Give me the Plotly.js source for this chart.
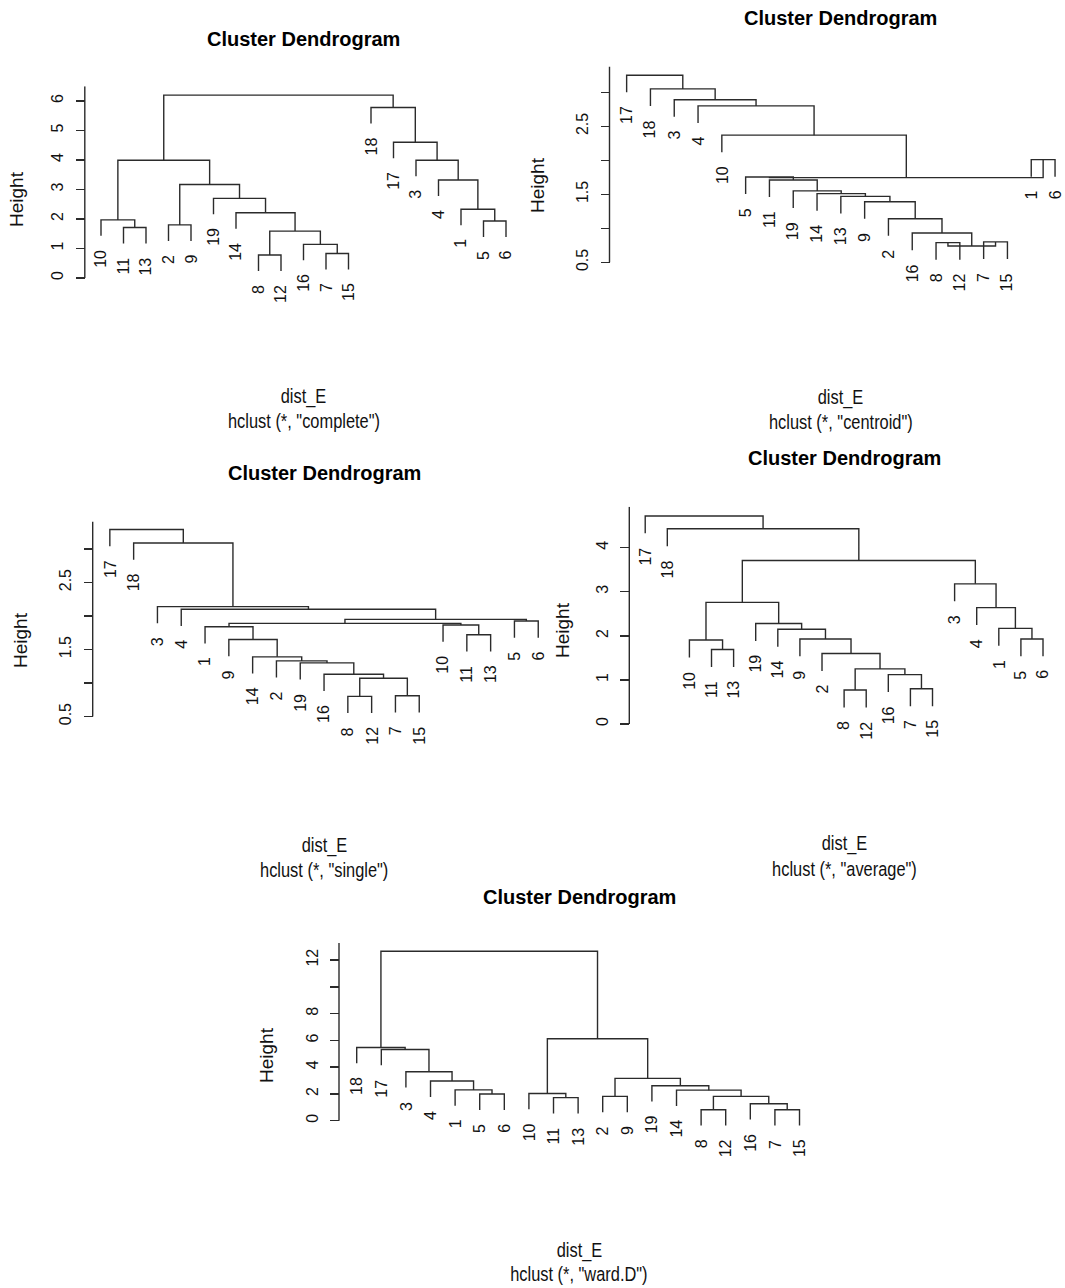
<!DOCTYPE html>
<html><head><meta charset="utf-8">
<script src="https://cdn.plot.ly/plotly-3.0.1.min.js"></script>
<style>html,body{margin:0;padding:0;background:#fff}#chart{width:1065px;height:1288px}</style>
</head><body><div id="chart"></div>
<script>
// ---------------- data ----------------
// merges: negative = observation label, positive = index (1-based) of an earlier merge
const completeLeaves  = [10,11,13,2,9,19,14,8,12,16,7,15,18,17,3,4,1,5,6];
const completeMerges  = [[-8,-12],[-7,-15],[-16,2],[1,3],[-11,-13],[-2,-9],[-5,-6],[-10,5],[-14,4],[-1,7],[-19,9],[6,11],[-4,10],[8,12],[-3,13],[-17,15],[-18,16],[14,17]];
const completeHeights = [0.78,0.83,1.14,1.59,1.71,1.80,1.93,1.97,2.21,2.33,2.70,3.17,3.32,3.99,3.99,4.60,5.78,6.20];

const centroidLeaves  = [17,18,3,4,10,5,11,19,14,13,9,2,16,8,12,7,15,1,6];
const centroidMerges  = [[-8,-12],[-7,-15],[1,2],[-16,3],[-2,4],[-9,5],[-13,6],[-14,7],[-19,8],[-11,9],[-5,10],[-1,-6],[11,12],[-10,13],[-4,14],[-3,15],[-18,16],[-17,17]];
const centroidHeights = [0.79,0.80,0.74,0.93,1.14,1.39,1.47,1.51,1.55,1.71,1.755,2.01,1.745,2.37,2.80,2.89,3.05,3.25];

const singleLeaves  = [17,18,3,4,1,9,14,2,19,16,8,12,7,15,10,11,13,5,6];
const singleMerges  = [[-8,-12],[-7,-15],[1,2],[-16,3],[-19,4],[-2,5],[-14,6],[-9,7],[-11,-13],[-1,8],[-10,9],[10,11],[-5,-6],[12,13],[-4,14],[-3,15],[-18,16],[-17,17]];
const singleHeights = [0.80,0.81,1.07,1.13,1.30,1.33,1.39,1.65,1.72,1.84,1.865,1.89,1.925,1.95,2.10,2.14,3.09,3.29];

const averageLeaves  = [17,18,10,11,13,19,14,9,2,8,12,16,7,15,3,4,1,5,6];
const averageMerges  = [[-8,-12],[-7,-15],[-16,2],[1,3],[-2,4],[-11,-13],[-10,6],[-5,-6],[-9,5],[-14,9],[-1,8],[-19,10],[-4,11],[7,12],[-3,13],[14,15],[-18,16],[-17,17]];
const averageHeights = [0.77,0.80,1.12,1.25,1.60,1.69,1.905,1.93,1.93,2.15,2.17,2.28,2.64,2.76,3.18,3.71,4.43,4.72];

const wardLeaves  = [18,17,3,4,1,5,6,10,11,13,2,9,19,14,8,12,16,7,15];
const wardMerges  = [[-8,-12],[-7,-15],[-16,2],[-11,-13],[1,3],[-2,-9],[-5,-6],[-10,4],[-14,5],[-1,7],[-19,9],[-4,10],[6,11],[-3,12],[-17,14],[-18,15],[8,13],[16,17]];
const wardHeights = [0.82,0.82,1.27,1.72,1.82,1.82,1.99,2.03,2.28,2.30,2.61,2.96,3.16,3.66,5.32,5.47,6.12,12.66];

const completeTicks = [0,1,2,3,4,5,6];
const completeTickText = ['0','1','2','3','4','5','6'];
const centroidTicks = [0.5,1,1.5,2,2.5,3];
const centroidTickText = ['0.5','','1.5','','2.5',''];
const singleTicks = [0.5,1,1.5,2,2.5,3];
const singleTickText = ['0.5','','1.5','','2.5',''];
const averageTicks = [0,1,2,3,4];
const averageTickText = ['0','1','2','3','4'];
const wardTicks = [0,2,4,6,8,10,12];
const wardTickText = ['0','2','4','6','8','','12'];

const methods = ['complete','centroid','single','average','ward.D'];

// ---------------- layout geometry (pixels) ----------------
const W = 1065, H = 1288;
const FONT = 'Liberation Sans, Arial, sans-serif';
const LINE = '#2b2b2b';

const panels = [
  {leaves:completeLeaves, merges:completeMerges, heights:completeHeights, ticks:completeTicks, tickText:completeTickText, method:methods[0],
   g:{axisPx:84.8, spacing:22.5, refVal:0, refPx:278, ppu:29.5, top:6.5}, title:[303.5,39.5], ylab:[17,199], sub:[396,420]},
  {leaves:centroidLeaves, merges:centroidMerges, heights:centroidHeights, ticks:centroidTicks, tickText:centroidTickText, method:methods[1],
   g:{axisPx:609.5, spacing:23.8, refVal:0.5, refPx:262.3, ppu:68, top:3.38}, title:[840.8,18], ylab:[537,185], sub:[397,421]},
  {leaves:singleLeaves, merges:singleMerges, heights:singleHeights, ticks:singleTicks, tickText:singleTickText, method:methods[2],
   g:{axisPx:92.7, spacing:23.8, refVal:0.5, refPx:716.5, ppu:67, top:3.41}, title:[324,473], ylab:[20,640], sub:[845,869]},
  {leaves:averageLeaves, merges:averageMerges, heights:averageHeights, ticks:averageTicks, tickText:averageTickText, method:methods[3],
   g:{axisPx:629.3, spacing:22.1, refVal:0, refPx:724, ppu:44.08, top:4.93}, title:[844,458], ylab:[563,630], sub:[843,868]},
  {leaves:wardLeaves, merges:wardMerges, heights:wardHeights, ticks:wardTicks, tickText:wardTickText, method:methods[4],
   g:{axisPx:339, spacing:24.6, refVal:0, refPx:1120.7, ppu:13.39, top:13.28}, title:[579,897], ylab:[266,1055], sub:[1250,1273]}
];

const traces = [];
const annotations = [];
const layout = {
  width: W, height: H, margin: {l:0, r:0, t:0, b:0},
  paper_bgcolor: '#fff', plot_bgcolor: 'rgba(0,0,0,0)', showlegend: false,
  annotations: annotations
};

panels.forEach((p, idx) => {
  const n = idx + 1;
  const xa = n === 1 ? 'x' : 'x' + n;
  const ya = n === 1 ? 'y' : 'y' + n;
  const hs = p.heights;
  const hang = 0.1 * (Math.max(...hs) - Math.min(...hs));
  const pos = {};
  p.leaves.forEach((lab, i) => pos[lab] = i + 1);

  const nodeX = [], xs = [], ys = [];
  const leafEnds = [];
  p.merges.forEach((m, k) => {
    const h = hs[k];
    const ch = m.map(c => {
      if (c < 0) { const y0 = h - hang; leafEnds.push([-c, pos[-c], y0]); return [pos[-c], y0]; }
      return [nodeX[c - 1], hs[c - 1]];
    });
    xs.push(ch[0][0], ch[0][0], ch[1][0], ch[1][0], null);
    ys.push(ch[0][1], h, h, ch[1][1], null);
    nodeX[k] = (ch[0][0] + ch[1][0]) / 2;
  });

  const g = p.g, pad = 5;
  const xr0 = 0.28 - pad / g.spacing;
  const rightPx = Math.min(g.axisPx + (19.72 - 0.28) * g.spacing, W);
  const xr1 = 0.28 + (rightPx - g.axisPx) / g.spacing;
  const minEnd = Math.min(...leafEnds.map(e => e[2]));
  const yLo = Math.min(p.ticks[0], minEnd) - 4 / g.ppu;
  const pxOf = v => g.refPx - (v - g.refVal) * g.ppu;

  traces.push({type:'scatter', mode:'lines', x:xs, y:ys, xaxis:xa, yaxis:ya,
    line:{color:LINE, width:1.4}, hoverinfo:'skip'});
  traces.push({type:'scatter', mode:'lines', x:[0.28,0.28], y:[p.ticks[0], g.top], xaxis:xa, yaxis:ya,
    line:{color:LINE, width:1.4}, hoverinfo:'skip'});

  layout['xaxis' + (n === 1 ? '' : n)] = {
    domain:[(g.axisPx - pad) / W, rightPx / W], range:[xr0, xr1],
    visible:false, fixedrange:true, anchor: ya
  };
  layout['yaxis' + (n === 1 ? '' : n)] = {
    domain:[1 - pxOf(yLo) / H, 1 - pxOf(g.top) / H], range:[yLo, g.top],
    anchor:'free', position: g.axisPx / W,
    showgrid:false, zeroline:false, showline:false,
    ticks:'outside', ticklen:9, tickwidth:1.4, tickcolor:LINE,
    tickmode:'array', tickvals:p.ticks, ticktext:p.tickText,
    tickangle:-90, ticklabelstandoff:6,
    tickfont:{family:FONT, size:16, color:'#111'}, fixedrange:true
  };

  leafEnds.forEach(e => {
    annotations.push({xref:xa, yref:ya, x:e[1], y:e[2], text:String(e[0]), showarrow:false,
      textangle:-90, xanchor:'center', yanchor:'top', yshift:-12,
      font:{family:FONT, size:16, color:'#111'}});
  });
  annotations.push({xref:'paper', yref:'paper', x:p.title[0] / W, y:1 - p.title[1] / H,
    text:'<b>Cluster Dendrogram</b>', showarrow:false, xanchor:'center', yanchor:'middle',
    font:{family:FONT, size:20, color:'#000'}});
  annotations.push({xref:'paper', yref:'paper', x:p.ylab[0] / W, y:1 - p.ylab[1] / H,
    text:'Height', textangle:-90, showarrow:false, xanchor:'center', yanchor:'middle',
    font:{family:FONT, size:19, color:'#111'}});
  annotations.push({xref:'paper', yref:'paper', x:p.title[0] / W, y:1 - p.sub[0] / H,
    text:'dist_E', showarrow:false, xanchor:'center', yanchor:'middle',
    font:{family:FONT, size:20.5, color:'#111'}});
  annotations.push({xref:'paper', yref:'paper', x:p.title[0] / W, y:1 - p.sub[1] / H,
    text:'hclust (*, "' + p.method + '")', showarrow:false, xanchor:'center', yanchor:'middle',
    font:{family:FONT, size:20.5, color:'#111'}});
});

Plotly.newPlot('chart', traces, layout, {displayModeBar:false, staticPlot:true}).then(() => {
  // the reference draws the x labels in a condensed face: compress those text runs horizontally
  document.querySelectorAll('#chart .annotation-text').forEach(t => {
    const s = t.textContent;
    if (s === 'dist_E' || s.indexOf('hclust') === 0) {
      const len = t.getComputedTextLength();
      t.setAttribute('textLength', (len * 0.8).toFixed(1));
      t.setAttribute('lengthAdjust', 'spacingAndGlyphs');
    }
  });
});
</script>
</body></html>
